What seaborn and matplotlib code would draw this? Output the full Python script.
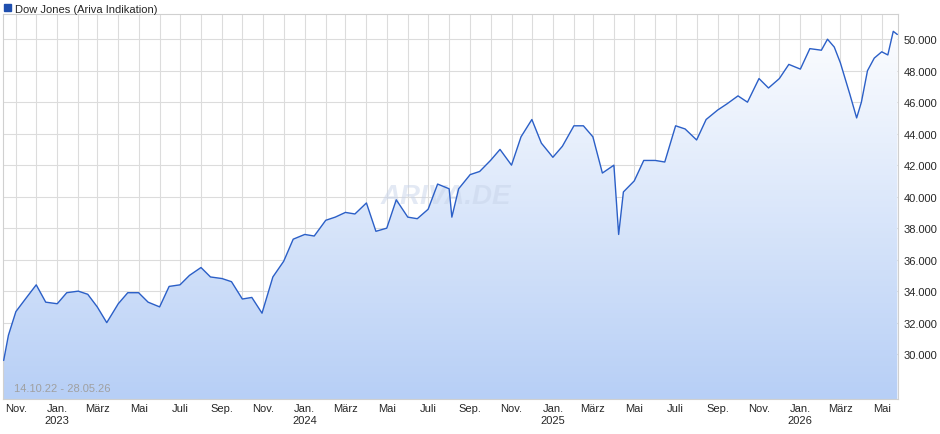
import matplotlib
matplotlib.use("Agg")
import matplotlib.pyplot as plt
import matplotlib.dates as mdates
import numpy as np
import pandas as pd
import seaborn as sns
from matplotlib.colors import LinearSegmentedColormap

dates = ["2022-10-14","2022-10-21","2022-11-01","2022-11-15","2022-12-01","2022-12-15","2023-01-01","2023-01-15",
"2023-02-01","2023-02-15","2023-03-01","2023-03-15","2023-04-01","2023-04-15","2023-05-01","2023-05-15",
"2023-06-01","2023-06-15","2023-07-01","2023-07-15","2023-08-01","2023-08-15","2023-09-01","2023-09-15",
"2023-10-01","2023-10-15","2023-10-30","2023-11-15","2023-12-01","2023-12-15","2024-01-01","2024-01-15",
"2024-02-01","2024-02-15","2024-03-01","2024-03-15","2024-04-01","2024-04-15","2024-05-01","2024-05-15",
"2024-06-01","2024-06-15","2024-07-01","2024-07-15","2024-08-01","2024-08-05","2024-08-15","2024-09-01",
"2024-09-15","2024-10-01","2024-10-15","2024-11-01","2024-11-15","2024-12-01","2024-12-15","2025-01-01",
"2025-01-15","2025-02-01","2025-02-15","2025-03-01","2025-03-15","2025-04-01","2025-04-08","2025-04-15",
"2025-05-01","2025-05-15","2025-06-01","2025-06-15","2025-07-01","2025-07-15","2025-08-01","2025-08-15",
"2025-09-01","2025-09-15","2025-10-01","2025-10-15","2025-11-01","2025-11-15","2025-12-01","2025-12-15",
"2026-01-01","2026-01-15","2026-02-01","2026-02-10","2026-02-20","2026-03-01","2026-03-15","2026-03-25",
"2026-04-01","2026-04-10","2026-04-20","2026-05-01","2026-05-10","2026-05-18","2026-05-24"]
values = [29600,31200,32700,33500,34400,33300,33200,33900,34000,33800,33000,32000,33200,33900,33900,33300,
33000,34300,34400,35000,35500,34900,34800,34600,33500,33600,32600,34900,35900,37300,37600,37500,
38500,38700,39000,38900,39600,37800,38000,39800,38700,38600,39200,40800,40500,38700,40500,41400,
41600,42300,43000,42000,43800,44900,43400,42500,43200,44500,44500,43800,41500,42000,37600,40300,
41000,42300,42300,42200,44500,44300,43600,44900,45500,45900,46400,46000,47500,46900,47500,48400,
48100,49400,49300,50000,49500,48500,46500,45000,46000,48000,48800,49200,49000,50500,50300]
yticks = [30000,32000,34000,36000,38000,40000,42000,44000,46000,48000,50000]
month_names = {1:"Jan.",3:"März",5:"Mai",7:"Juli",9:"Sep.",11:"Nov."}

df = pd.DataFrame({"date": pd.to_datetime(dates), "value": values})
sns.set_style("white")
fig = plt.figure(figsize=(9.4, 4.35), dpi=100)
ax = fig.add_axes([3/940, 35/435, 895/940, 385/435])
ymin, ymax = 27150, 51600
x0, x1 = pd.Timestamp("2022-10-13"), pd.Timestamp("2026-05-25")
ax.set_xlim(x0, x1); ax.set_ylim(ymin, ymax)

grad = np.linspace(0, 1, 256).reshape(-1, 1)
cmap = LinearSegmentedColormap.from_list("g", ["#b7cff6", "#ffffff"])
im = ax.imshow(grad, cmap=cmap, aspect="auto", origin="lower",
               extent=[mdates.date2num(x0), mdates.date2num(x1), ymin, ymax], zorder=1)
poly = ax.fill_between(df["date"], df["value"], ymin, color="none", lw=0)
im.set_clip_path(poly.get_paths()[0], transform=ax.transData)

sns.lineplot(data=df, x="date", y="value", ax=ax, color="#2b5fc7", lw=1.0, zorder=3)

for yv in yticks:
    ax.axhline(yv, color="#dcdcdc", lw=0.8, zorder=0.5)
months = pd.date_range("2022-11-01", "2026-05-01", freq="MS")
for m in months:
    ax.axvline(m, color="#dcdcdc", lw=0.8, zorder=0.5)

ax.set_xticks([m for m in months if m.month in month_names])
ax.set_xticklabels([month_names[m.month] + ("\n" + str(m.year) if m.month == 1 else "") for m in months if m.month in month_names],
                   fontsize=8, family="Liberation Sans")
ax.tick_params(axis="x", length=0, pad=3)
ax.yaxis.tick_right()
ax.set_yticks(yticks)
ax.set_yticklabels([f"{v//1000}.000" for v in yticks], fontsize=8, family="Liberation Sans")
ax.tick_params(axis="y", length=0, pad=4)
ax.set_xlabel(""); ax.set_ylabel("")
for s in ax.spines.values():
    s.set_color("#d0d0d0"); s.set_linewidth(0.8)

ax.text(0.012, 0.02, "14.10.22 - 28.05.26", transform=ax.transAxes, fontsize=8, color="#a0a0a0",
        family="Liberation Sans", zorder=4)
ax.text(0.495, 0.51, "ARIVA.DE", transform=ax.transAxes, fontsize=20, color="#c8d4ea", alpha=0.5,
        weight="bold", style="italic", ha="center", family="Liberation Sans", zorder=2)
fig.patches.append(plt.Rectangle((4/940, 1-12/435), 7/940, 7/435, transform=fig.transFigure,
                                 facecolor="#1f4fae", edgecolor="#1f4fae"))
fig.text(15/940, 1-13/435, "Dow Jones (Ariva Indikation)", fontsize=8, family="Liberation Sans")
fig.savefig("out.png", dpi=100)
